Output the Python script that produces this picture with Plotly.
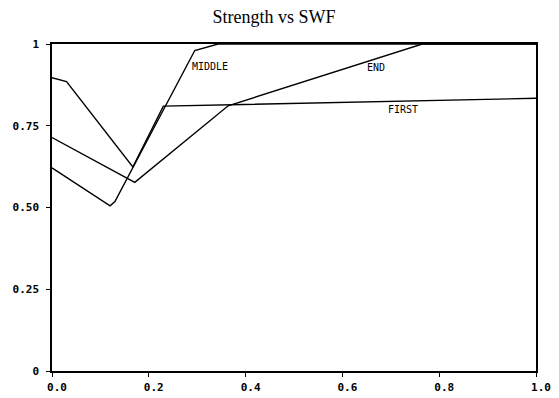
import plotly.graph_objects as go

first_x = [0.0, 0.03, 0.167, 0.23, 1.0]
first_y = [0.897, 0.885, 0.624, 0.81, 0.834]

middle_x = [0.0, 0.12, 0.13, 0.295, 0.343, 1.0]
middle_y = [0.621, 0.505, 0.518, 0.98, 1.0, 1.0]

end_x = [0.0, 0.171, 0.364, 0.765, 1.0]
end_y = [0.714, 0.577, 0.811, 1.0, 1.0]

series = [("FIRST", first_x, first_y), ("MIDDLE", middle_x, middle_y), ("END", end_x, end_y)]
labels = [("MIDDLE", 0.285, 0.93, "left"), ("END", 0.669, 0.928, "center"), ("FIRST", 0.725, 0.801, "center")]

x_ticks = [0.0, 0.2, 0.4, 0.6, 0.8, 1.0]
x_ticktext = ["0.0", "0.2", "0.4", "0.6", "0.8", "1.0"]
y_ticks = [0, 0.25, 0.5, 0.75, 1.0]
y_ticktext = ["0", "0.25", "0.50", "0.75", "1"]

fig = go.Figure()
for name, xs, ys in series:
    fig.add_trace(go.Scatter(x=xs, y=ys, mode="lines", name=name,
                             line=dict(color="black", width=1.4), showlegend=False))

for text, x, y, anchor in labels:
    fig.add_annotation(x=x, y=y, text=text, showarrow=False, xanchor=anchor, yanchor="middle",
                       font=dict(family="DejaVu Sans Mono", size=10, color="black"))

tickfont = dict(family="DejaVu Sans Mono", size=11, color="black", weight="bold")
fig.update_layout(
    template="none",
    width=543, height=390,
    margin=dict(l=44, r=15, t=36, b=27, autoexpand=False),
    paper_bgcolor="white", plot_bgcolor="white",
    title=dict(text="Strength vs SWF", x=0.490, xanchor="center", xref="container",
               y=1 - 9 / 390, yanchor="middle", yref="container",
               font=dict(family="Liberation Serif", size=18, color="black")),
    xaxis=dict(range=[0, 1.0], tickvals=x_ticks, ticktext=x_ticktext, showgrid=False, zeroline=False,
               showline=True, linecolor="black", linewidth=1.5, mirror=True, automargin=False,
               ticks="outside", ticklen=4, tickcolor="black", tickfont=tickfont,
               ticklabelshift=5, ticklabelstandoff=1),
    yaxis=dict(range=[0, 1.0], tickvals=y_ticks, ticktext=y_ticktext, showgrid=False, zeroline=False,
               showline=True, linecolor="black", linewidth=1.5, mirror=True, automargin=False,
               ticks="outside", ticklen=4, tickcolor="black", tickfont=tickfont,
               ticklabelstandoff=5),
)

fig.write_html("out.html")
